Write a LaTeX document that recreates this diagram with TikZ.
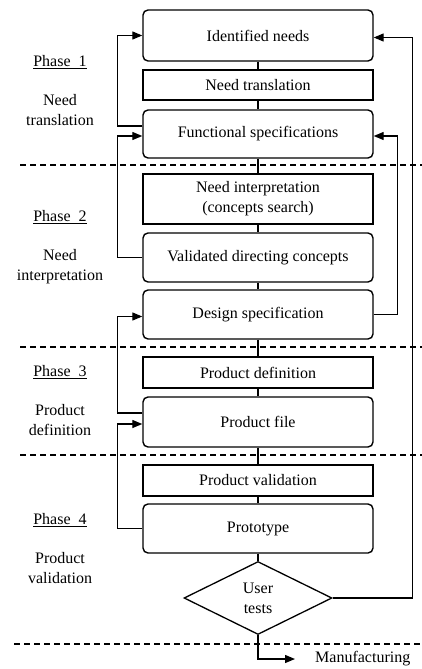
\documentclass[tikz,border=0pt]{standalone}
\usepackage{fontspec}
\setmainfont{Liberation Serif}
\usetikzlibrary{arrows.meta,shapes.geometric}
\tikzstyle{rbox} = [draw, line width=1.4pt, rounded corners=5pt, minimum width=230pt, minimum height=49pt, align=center]
\tikzstyle{sbox} = [draw, line width=1.4pt, minimum width=230pt, minimum height=31pt, align=center]
\tikzstyle{decision} = [draw, diamond, line width=1.3pt, minimum width=148pt, minimum height=73pt, inner sep=0pt, align=center]
\tikzstyle{phase} = [align=center]
\tikzstyle{link} = [line width=1.3pt]
\tikzstyle{arrow} = [line width=1.3pt, ->, >={Triangle[length=10pt,width=8pt]}]
\tikzstyle{sep} = [line width=1.1pt, dash pattern=on 6pt off 4pt]

\begin{document}
\begin{tikzpicture}[x=1pt, y=-1pt, font=\fontsize{16}{20}\selectfont]
  \useasboundingbox (0,0) rectangle (422,669);

  % SEPARATORS
  \draw[sep] (20,165) -- (422,165);
  \draw[sep] (20,347) -- (422,347);
  \draw[sep] (20,455) -- (422,455);
  \draw[sep] (14,644) -- (422,644);

  % PHASE LABELS
  \node[phase] (ph1) at (60,62) {\underline{Phase~~1}};
  \node[phase] (lab1) at (60,110) {Need\\translation};
  \node[phase] (ph2) at (60,217) {\underline{Phase~~2}};
  \node[phase] (lab2) at (60,267) {Need\\interpretation};
  \node[phase] (ph3) at (60,372) {\underline{Phase~~3}};
  \node[phase] (lab3) at (60,420.5) {Product\\definition};
  \node[phase] (ph4) at (60,520) {\underline{Phase~~4}};
  \node[phase] (lab4) at (60,568.5) {Product\\validation};

  % MAIN CHAIN
  \node[rbox, minimum height=51pt] (needs) at (258,35.5) {Identified needs};
  \node[sbox, minimum height=30pt] (ntrans) at (258,85) {Need translation};
  \node[rbox, minimum height=48pt] (funcspec) at (258,134) {Functional specifications};
  \node[sbox, minimum height=50pt] (ninterp) at (258,199) {Need interpretation\\(concepts search)};
  \node[rbox] (valid) at (258,257.5) {Validated directing concepts};
  \node[rbox] (design) at (258,314.5) {Design specification};
  \node[sbox] (pdef) at (258,372.5) {Product definition};
  \node[rbox, minimum height=50pt] (pfile) at (258,422) {Product file};
  \node[sbox] (pval) at (258,480.5) {Product validation};
  \node[rbox] (proto) at (258,528.5) {Prototype};
  \node[decision] (tests) at (258,598) {User\\tests};
  \node[anchor=west, inner xsep=0pt] (mfg) at (315,659) {Manufacturing};

  % vertical links
  \draw[link] (needs) -- (ntrans);
  \draw[link] (ntrans) -- (funcspec);
  \draw[link] (funcspec) -- (ninterp);
  \draw[link] (ninterp) -- (valid);
  \draw[link] (valid) -- (design);
  \draw[link] (design) -- (pdef);
  \draw[link] (pdef) -- (pfile);
  \draw[link] (pfile) -- (pval);
  \draw[link] (pval) -- (proto);
  \draw[link] (proto) -- (tests);
  \draw[arrow, shorten >=20pt] (tests.south) |- (mfg.west);

  % LEFT LOOPS
  \draw[arrow] ([yshift=8pt]funcspec.west) -| ([xshift=-25pt]needs.west) -- (needs.west);
  \draw[arrow] (valid.west) -| ([xshift=-25pt,yshift=-2pt]funcspec.west) -- ([yshift=-2pt]funcspec.west);
  \draw[arrow] ([yshift=9pt]pfile.west) -| ([xshift=-25pt,yshift=-2pt]design.west) -- ([yshift=-2pt]design.west);
  \draw[arrow] (proto.west) -| ([xshift=-25pt,yshift=-2pt]pfile.west) -- ([yshift=-2pt]pfile.west);

  % RIGHT LOOPS
  \draw[arrow] (design.east) -| ([xshift=24pt,yshift=-2pt]funcspec.east) -- ([yshift=-2pt]funcspec.east);
  \draw[arrow] (tests.east) -| ([xshift=39pt,yshift=-2pt]needs.east) -- ([yshift=-2pt]needs.east);
\end{tikzpicture}
\end{document}
